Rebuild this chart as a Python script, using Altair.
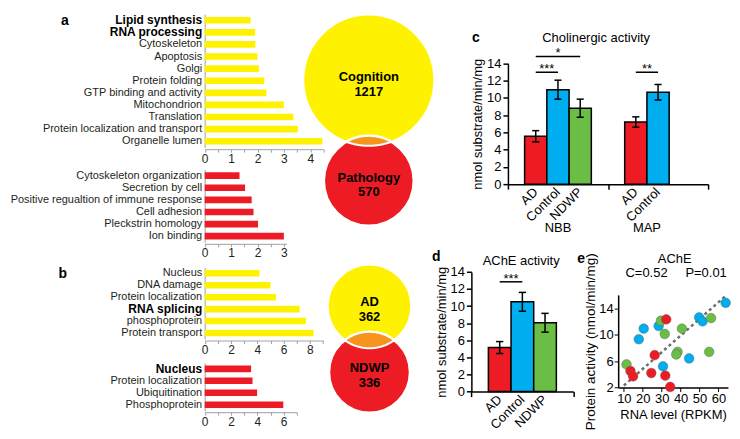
import math
import altair as alt
import numpy as np
import pandas as pd

W, H = 724, 417
FONT = "Liberation Sans"
INK = "#231f20"
AX_GRAY = "#9d9fa2"
YELLOW, RED, ORANGE = "#fff200", "#ed1c24", "#f7941d"
BLUE, GREEN = "#00aeef", "#6abd45"

# ---------------- data ----------------
a_cog_terms = ["Lipid synthesis", "RNA processing", "Cytoskeleton", "Apoptosis", "Golgi",
               "Protein folding", "GTP binding and activity", "Mitochondrion", "Translation",
               "Protein localization and transport", "Organelle lumen"]
a_cog_vals = [1.74, 1.91, 1.92, 2.0, 2.05, 2.26, 2.34, 3.0, 3.36, 3.53, 4.46]
a_cog_bold = ["Lipid synthesis", "RNA processing"]

a_path_terms = ["Cytoskeleton organization", "Secretion by cell",
                "Positive regualtion of immune response", "Cell adhesion",
                "Pleckstrin homology", "Ion binding"]
a_path_vals = [1.32, 1.53, 1.78, 1.85, 2.02, 3.0]

b_ad_terms = ["Nucleus", "DNA damage", "Protein localization", "RNA splicing",
              "phosphoprotein", "Protein transport"]
b_ad_vals = [4.17, 5.0, 5.43, 7.22, 7.7, 8.28]
b_ad_bold = ["RNA splicing"]

b_ndwp_terms = ["Nucleus", "Protein localization", "Ubiquitination", "Phosphoprotein"]
b_ndwp_vals = [3.53, 3.64, 3.99, 5.98]
b_ndwp_bold = ["Nucleus"]

venn_a_sets = ["Cognition", "Pathology"]
venn_a_counts = [1217, 570]
venn_b_sets = ["AD", "NDWP"]
venn_b_counts = [362, 336]

cond_order = ["AD", "Control", "NDWP"]
cond_colors = [RED, BLUE, GREEN]

c_groups = ["NBB", "NBB", "NBB", "MAP", "MAP"]
c_conds = ["AD", "Control", "NDWP", "AD", "Control"]
c_means = [5.55, 10.95, 8.8, 7.2, 10.65]
c_errs = [0.65, 1.1, 1.05, 0.6, 0.9]
c_sig = [("NBB", "AD", "Control", "***"), ("NBB", "AD", "NDWP", "*"),
         ("MAP", "AD", "Control", "**")]

d_groups = ["AChE", "AChE", "AChE"]
d_conds = ["AD", "Control", "NDWP"]
d_means = [5.15, 10.5, 8.05]
d_errs = [0.7, 1.1, 1.1]
d_sig = [("AChE", "AD", "Control", "***")]

e_rna = [63.8, 49.8, 51.6, 20.5, 28.4, 17.9, 44.5, 30.7,
         29.6, 56.1, 40.7, 31.6, 38.4, 37.7, 55.1, 11.4,
         32.4, 26.3, 13.5, 14.9, 24.5, 31.9, 34.5]
e_prot = [14.8, 12.6, 12.0, 10.9, 11.3, 9.3, 6.4, 5.2,
          12.1, 12.5, 10.9, 10.1, 7.4, 7.0, 7.4, 5.5,
          12.3, 6.9, 4.5, 3.7, 4.2, 3.8, 2.1]
e_group = ["Control"] * 8 + ["NDWP"] * 8 + ["AD"] * 7

layers = []


def label(txt, x, y, size=13, weight="normal", **kw):
    return alt.Chart(pd.DataFrame({"t": [txt]})).mark_text(
        font=FONT, fontSize=size, fontWeight=weight, color="black", **kw
    ).encode(text="t:N", x=alt.value(x), y=alt.value(y))


# ---------------- GO term bars (a, b) ----------------
def term_bars(terms, vals, color, bold, xmax, tick_step, label_step, x_rng, y_rng, axis_y):
    df = pd.DataFrame({"term": terms, "value": vals})
    cond = " || ".join("datum.value == '%s'" % t for t in bold) if bold else "false"
    n = int(round(xmax / tick_step))
    ticks = [round(i * tick_step, 6) for i in range(n + 1) if i * tick_step <= xmax + 1e-9]
    return alt.Chart(df).mark_bar(color=color).encode(
        y=alt.Y("term:N", sort=None,
                scale=alt.Scale(domain=terms, range=y_rng, paddingInner=0.45, paddingOuter=0.225),
                axis=alt.Axis(orient="left", offset=-x_rng[0], title=None, ticks=False, tickSize=0,
                              domainColor=AX_GRAY, domainWidth=1, labelPadding=3, labelLimit=400,
                              labelFontSize={"expr": "(%s) ? 12 : 11" % cond},
                              labelFontWeight={"expr": "(%s) ? 'bold' : 'normal'" % cond},
                              labelColor={"expr": "(%s) ? '#000000' : '%s'" % (cond, INK)})),
        x=alt.X("value:Q",
                scale=alt.Scale(domain=[0, xmax], range=x_rng, nice=False, zero=True),
                axis=alt.Axis(orient="bottom", offset=axis_y - H, values=ticks, title=None,
                              tickSize=3, tickColor=AX_GRAY, domainColor=AX_GRAY, labelPadding=1,
                              labelFontSize=12, labelColor=INK,
                              labelExpr="datum.value %% %s == 0 ? format(datum.value, 'd') : ''" % label_step)),
    )


BX0 = 197.5
layers.append(term_bars(a_cog_terms, a_cog_vals, YELLOW, a_cog_bold, 4.5, 0.5, 1,
                        [BX0, BX0 + 4.5 * 26.5], [0.3, 134.0], 135.9))
layers.append(term_bars(a_path_terms, a_path_vals, RED, [], 3.1, 0.5, 1,
                        [BX0, BX0 + 3.1 * 26.5], [156.4, 229.3], 230.9))
layers.append(term_bars(b_ad_terms, b_ad_vals, YELLOW, b_ad_bold, 9, 1, 2,
                        [BX0, BX0 + 9 * 13.2], [254.5, 326.5], 328.0))
layers.append(term_bars(b_ndwp_terms, b_ndwp_vals, RED, b_ndwp_bold, 7, 1, 2,
                        [BX0, BX0 + 7 * 13.2], [350.5, 398.5], 400.0))
layers.append(label("a", 57, 7.6, size=14, weight="bold"))
layers.append(label("b", 55, 261, size=14, weight="bold"))


# ---------------- Venn diagrams ----------------
def venn(names, counts, cx, cy, r1, overlap, name_dy, count_dy):
    r2 = r1 * math.sqrt(counts[1] / counts[0])
    d = r1 + r2 - overlap
    df = pd.DataFrame({"name": names, "count": counts, "vx": [0.0, 0.0], "vy": [0.0, d]})
    xs = alt.Scale(domain=[-100, 100], range=[cx - 100, cx + 100], nice=False, zero=False)
    ys = alt.Scale(domain=[-100, 100], range=[cy - 100, cy + 100], nice=False, zero=False)
    circles = alt.Chart(df).mark_point(shape="circle", filled=True, opacity=1, fillOpacity=1,
                                       stroke="white", strokeWidth=2.5).encode(
        x=alt.X("vx:Q", scale=xs, axis=None),
        y=alt.Y("vy:Q", scale=ys, axis=None),
        size=alt.Size("count:Q", scale=alt.Scale(domain=[0, counts[0]], range=[0, 4 * r1 * r1], zero=True),
                      legend=None),
        color=alt.Color("name:N", scale=alt.Scale(domain=names, range=[YELLOW, RED]), legend=None),
    )
    y0 = (d * d + r1 * r1 - r2 * r2) / (2 * d)
    hw = math.sqrt(max(r1 * r1 - y0 * y0, 0.0))
    lx = np.linspace(-hw, hw, 81)
    top = d - np.sqrt(np.maximum(r2 * r2 - lx ** 2, 0))
    bot = np.sqrt(np.maximum(r1 * r1 - lx ** 2, 0))
    lens = alt.Chart(pd.DataFrame({"lx": lx, "ly": top, "ly2": bot})).mark_area(
        color=ORANGE, stroke="white", strokeWidth=2, opacity=1).encode(
        x=alt.X("lx:Q", scale=xs, axis=None),
        y=alt.Y("ly:Q", scale=ys, axis=None),
        y2="ly2:Q",
    )
    txt_name = alt.Chart(df).mark_text(font=FONT, fontSize=13, fontWeight="bold", color="black",
                                       dy=name_dy).encode(
        x=alt.X("vx:Q", scale=xs, axis=None), y=alt.Y("vy:Q", scale=ys, axis=None), text="name:N")
    txt_cnt = alt.Chart(df).mark_text(font=FONT, fontSize=13, fontWeight="bold", color="black",
                                      dy=count_dy).encode(
        x=alt.X("vx:Q", scale=xs, axis=None), y=alt.Y("vy:Q", scale=ys, axis=None), text="count:Q")
    return [circles, lens, txt_name, txt_cnt]


layers += venn(venn_a_sets, venn_a_counts, 362.3, 66.5, 66.0, 10.0, -3, 11.5)
layers += venn(venn_b_sets, venn_b_counts, 363.0, 293.6, 42.2, 16.5, -4, 10.5)


# ---------------- activity bar panels (c, d) ----------------
def activity(groups, conds, means, errs, group_order, sig, x_rng, y_rng, axis_y, level_y,
             ytitle_pad, group_label_y=None):
    gw, first = 4.5, 1.25
    df = pd.DataFrame({"group": groups, "cond": conds, "mean": means, "err": errs})
    df["pos"] = (df["group"].map({g: i for i, g in enumerate(group_order)}) * gw + first
                 + df.groupby("group", sort=False).cumcount())
    df["left"] = df["pos"] - 0.5
    df["right"] = df["pos"] + 0.5
    df["lo"] = df["mean"] - df["err"]
    df["hi"] = df["mean"] + df["err"]
    df["cl"] = df["pos"] - 0.16
    df["cr"] = df["pos"] + 0.16
    xdom = [0, gw * len(group_order)]
    xs = alt.Scale(domain=xdom, range=x_rng, nice=False, zero=False)
    ys = alt.Scale(domain=[0, 14], range=y_rng, nice=False, zero=False)
    X = lambda f: alt.X(f, scale=xs, axis=None)
    Y = lambda f: alt.Y(f, scale=ys, axis=None)
    out = []
    out.append(alt.Chart(df).mark_rect(stroke="black", strokeWidth=1.5).encode(
        x=alt.X("left:Q", scale=xs,
                axis=alt.Axis(orient="bottom", offset=axis_y - H, values=[g * gw for g in range(len(group_order) + 1)],
                              labels=False, title=None, tickSize=5, tickWidth=1.5, tickColor="black",
                              domainColor="black", domainWidth=1.5)),
        x2="right:Q",
        y=alt.Y("mean:Q", scale=ys,
                axis=alt.Axis(orient="left", offset=-x_rng[0], values=list(range(0, 15, 2)),
                              title="nmol substrate/min/mg", titleFontSize=13, titleFontWeight="normal",
                              titleColor="black", titlePadding=ytitle_pad, labelFontSize=13,
                              labelColor="black", tickSize=5, tickWidth=1.5, tickColor="black",
                              domainColor="black", domainWidth=1.5, labelPadding=2)),
        y2=alt.datum(0),
        color=alt.Color("cond:N", scale=alt.Scale(domain=cond_order, range=cond_colors), legend=None),
    ))
    out.append(alt.Chart(df).mark_rule(color="black", strokeWidth=1.5).encode(
        x=X("pos:Q"), y=Y("lo:Q"), y2="hi:Q"))
    out.append(alt.Chart(df).mark_rule(color="black", strokeWidth=1.5).encode(
        x=X("cl:Q"), x2="cr:Q", y=Y("lo:Q")))
    out.append(alt.Chart(df).mark_rule(color="black", strokeWidth=1.5).encode(
        x=X("cl:Q"), x2="cr:Q", y=Y("hi:Q")))
    # significance brackets
    key = {(g, c): p for g, c, p in zip(df["group"], df["cond"], df["pos"])}
    s = pd.DataFrame(sig, columns=["group", "c1", "c2", "stars"])
    s["x1"] = [key[(g, c)] for g, c in zip(s["group"], s["c1"])]
    s["x2"] = [key[(g, c)] for g, c in zip(s["group"], s["c2"])]
    s["mid"] = (s["x1"] + s["x2"]) / 2
    s["yy"] = [level_y[l] for l in s.groupby("group", sort=False).cumcount()]
    out.append(alt.Chart(s).mark_rule(color="black", strokeWidth=1.5).encode(
        x=X("x1:Q"), x2="x2:Q", y=Y("yy:Q")))
    out.append(alt.Chart(s).mark_text(font=FONT, fontSize=13, color="black", baseline="alphabetic",
                                      dy=1).encode(x=X("mid:Q"), y=Y("yy:Q"), text="stars:N"))
    # rotated condition labels
    out.append(alt.Chart(df).mark_text(font=FONT, fontSize=13, color="black", angle=315,
                                       align="right", baseline="middle").encode(
        x=X("pos:Q"), y=alt.value(axis_y + 6), text="cond:N"))
    if group_label_y is not None:
        g = df.groupby("group", sort=False)["pos"].mean().reset_index()
        out.append(alt.Chart(g).mark_text(font=FONT, fontSize=13, color="black").encode(
            x=X("pos:Q"), y=alt.value(group_label_y), text="group:N"))
    return out


layers += activity(c_groups, c_conds, c_means, c_errs, ["NBB", "MAP"], c_sig,
                   [502, 703], [171.0, 49.7], 171.0, [12.97, 14.8], 2, group_label_y=214.7)
layers.append(label("Cholinergic activity", 590.6, 24.7))
layers.append(label("c", 469.7, 24.4, size=14, weight="bold"))

layers += activity(d_groups, d_conds, d_means, d_errs, ["AChE"], d_sig,
                   [465.3, 567.7], [379.3, 259.1], 379.3, [12.84], 2)
layers.append(label("AChE activity", 515.3, 248.6))
layers.append(label("d", 430, 244.2, size=14, weight="bold"))

# ---------------- scatter (e) ----------------
e_df = pd.DataFrame({"rna": e_rna, "prot": e_prot, "grp": e_group})
exs = alt.Scale(domain=[7, 65], range=[612.7, 722.9], nice=False, zero=False)
eys = alt.Scale(domain=[2, 16], range=[375.3, 282.2], nice=False, zero=False)

# trend line (reduced major axis fit through the data means)
mx, my = e_df["rna"].mean(), e_df["prot"].mean()
slope = np.sign(np.corrcoef(e_df["rna"], e_df["prot"])[0, 1]) * e_df["prot"].std() / e_df["rna"].std()
fit = pd.DataFrame({"rna": [10.0, 63.5]})
fit["prot"] = my + slope * (fit["rna"] - mx)
layers.append(alt.Chart(fit).mark_line(color="#6d6e71", strokeDash=[3, 3], strokeWidth=2.5).encode(
    x=alt.X("rna:Q", scale=exs, axis=None), y=alt.Y("prot:Q", scale=eys, axis=None)))
layers.append(alt.Chart(e_df).mark_circle(size=95, opacity=1, stroke="#58595b", strokeWidth=0.4).encode(
    x=alt.X("rna:Q", scale=exs,
            axis=alt.Axis(orient="bottom", offset=375.3 - H, values=[10, 20, 30, 40, 50, 60],
                          title="RNA level (RPKM)", titleFontSize=13, titleFontWeight="normal",
                          titleColor="black", titlePadding=3, labelFontSize=13, labelColor="black",
                          tickSize=4, tickColor="black", domainColor="black", domainWidth=1.5,
                          labelPadding=1)),
    y=alt.Y("prot:Q", scale=eys,
            axis=alt.Axis(orient="left", offset=-612.7, values=[2, 6, 10, 14],
                          title="Protein activity (nmol/min/mg)", titleFontSize=13.5,
                          titleFontWeight="normal", titleColor="black", titlePadding=1,
                          labelFontSize=13, labelColor="black", tickSize=4, tickColor="black",
                          domainColor="black", domainWidth=1.5, labelPadding=1)),
    color=alt.Color("grp:N", scale=alt.Scale(domain=cond_order, range=cond_colors), legend=None),
))
layers.append(label("AChE", 669.5, 246.3))
layers.append(label("C=0.52", 641.2, 260.3))
layers.append(label("P=0.01", 701, 260.3))
layers.append(label("e", 575.5, 246.3, size=14, weight="bold"))

chart = alt.layer(*layers).resolve_scale(
    x="independent", y="independent", color="independent", size="independent"
).resolve_axis(x="independent", y="independent").properties(
    width=W, height=H, padding=0
).configure_view(stroke=None).configure_axis(
    grid=False, labelFlush=False, labelOverlap=False, labelFont=FONT, titleFont=FONT
)

chart.save("out.html", embed_options={"renderer": "svg", "actions": False})
